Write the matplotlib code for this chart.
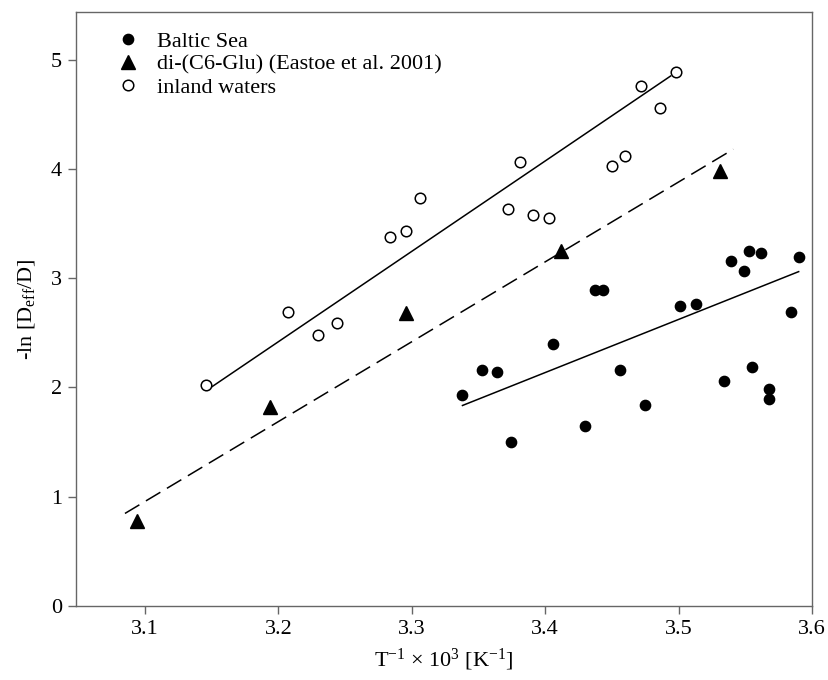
import matplotlib
matplotlib.use("Agg")
import matplotlib.pyplot as plt

plt.rcParams['font.family'] = ['Liberation Serif', 'DejaVu Serif']
plt.rcParams['mathtext.fontset'] = 'custom'
plt.rcParams['mathtext.rm'] = 'Liberation Serif'
plt.rcParams['mathtext.it'] = 'Liberation Serif:italic'

#############   data   #############

baltic_x = [3.338, 3.353, 3.364, 3.374, 3.406, 3.430, 3.437, 3.443, 3.456, 3.475, 3.501,
            3.513, 3.534, 3.539, 3.549, 3.553, 3.562, 3.555, 3.568, 3.568, 3.584, 3.590]
baltic_y = [1.93, 2.16, 2.14, 1.50, 2.40, 1.65, 2.89, 2.89, 2.16, 1.84, 2.75,
            2.76, 2.06, 3.16, 3.07, 3.25, 3.23, 2.19, 1.99, 1.89, 2.69, 3.19]

glu_x = [3.094, 3.194, 3.296, 3.412, 3.531]
glu_y = [0.78, 1.82, 2.68, 3.25, 3.98]

inland_x = [3.146, 3.207, 3.230, 3.244, 3.284, 3.296, 3.306, 3.372, 3.381, 3.391,
            3.403, 3.450, 3.460, 3.472, 3.486, 3.498]
inland_y = [2.02, 2.69, 2.48, 2.59, 3.38, 3.43, 3.73, 3.63, 4.06, 3.58,
            3.55, 4.03, 4.12, 4.76, 4.56, 4.89]

# regression lines (end points)
baltic_fit_x = [3.338, 3.590]
baltic_fit_y = [1.835, 3.06]
glu_fit_x = [3.085, 3.541]
glu_fit_y = [0.847, 4.18]
inland_fit_x = [3.150, 3.494]
inland_fit_y = [2.005, 4.85]

#############   plot   #############

fig = plt.figure(figsize=(8.29, 6.8), dpi=100)
ax = fig.add_axes([76/829, 74/680, 736/829, 594/680])

ax.plot(baltic_fit_x, baltic_fit_y, color='black', lw=1.1)
ax.plot(glu_fit_x, glu_fit_y, color='black', lw=1.1, dashes=(11, 5))
ax.plot(inland_fit_x, inland_fit_y, color='black', lw=1.1)

ax.plot(baltic_x, baltic_y, 'o', color='black', ms=7.4, label='Baltic Sea')
ax.plot(glu_x, glu_y, '^', color='black', ms=10.5, label='di-(C6-Glu) (Eastoe et al. 2001)')
ax.plot(inland_x, inland_y, 'o', mfc='white', mec='black', mew=1.1, ms=7.6,
        label='inland waters')

ax.set_xlim(3.0483, 3.6)
ax.set_ylim(0, 5.436)
ax.set_xticks([3.1, 3.2, 3.3, 3.4, 3.5, 3.6])
ax.set_yticks([0, 1, 2, 3, 4, 5])
ax.set_xticklabels(['3.1', '3.2', '3.3', '3.4', '3.5', '3.6'])

for s in ax.spines.values():
    s.set_color('#666666')
    s.set_linewidth(1.0)
ax.tick_params(direction='out', length=6, width=1.0, color='#666666',
               labelsize=16, pad=4)

ax.set_xlabel('T$^{\u22121}$ \u00d7 10$^{3}$ [K$^{\u22121}$]', fontsize=16, labelpad=6)
ax.set_ylabel('-ln [D$_{\\mathrm{eff}}$/D]', fontsize=16, labelpad=10)

ax.legend(loc='upper left', bbox_to_anchor=(0.044, 0.983), frameon=False,
          fontsize=16, handlelength=1.0, handletextpad=0.8, labelspacing=0.12,
          borderaxespad=0, numpoints=1)

plt.savefig('out.png', dpi=100)
